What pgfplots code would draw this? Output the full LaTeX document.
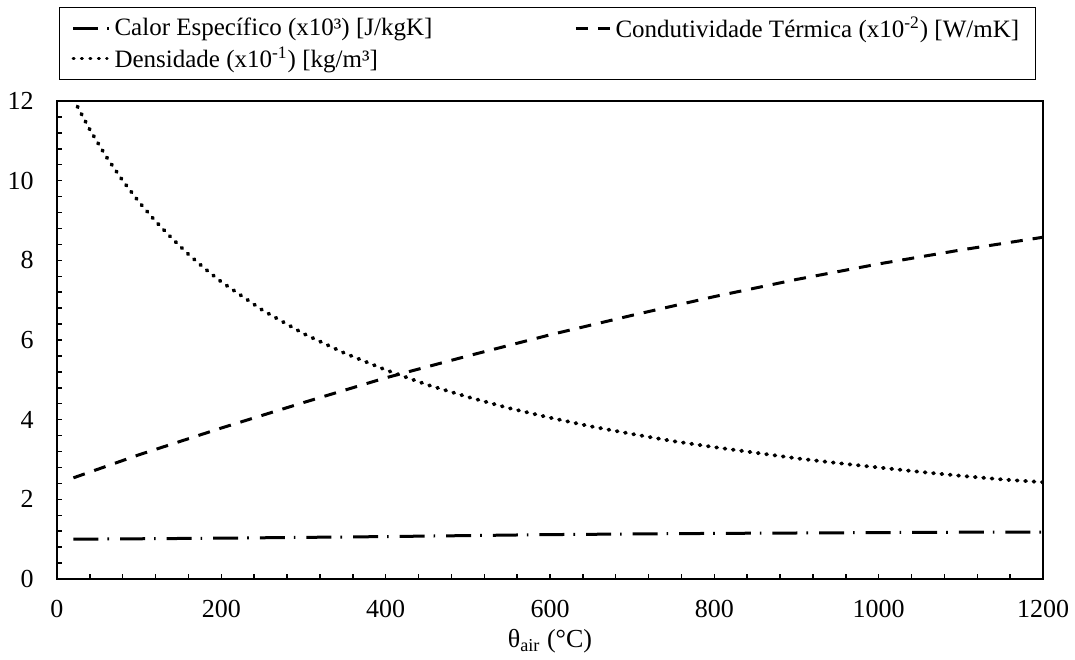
\documentclass[border=0pt]{standalone}
\usepackage{fontspec}
\setmainfont{Liberation Serif}
\usepackage{pgfplots}
\pgfplotsset{compat=1.18}
% slightly longer legend line so the dash-dot pattern shows its dot
\pgfplotsset{longlegend/.style={legend image code/.code={\draw[##1] (0pt,0pt) -- (18pt,0pt);}}}

\begin{document}
\begin{tikzpicture}
\begin{axis}[
  name=ax,
  scale only axis,
  width=493pt, height=239pt,
  xmin=0, xmax=1200, ymin=0, ymax=12,
  xtick={0,200,...,1200}, ytick={0,2,...,12},
  minor x tick num=4, minor y tick num=4,
  xtick pos=left, ytick pos=left,
  tick align=inside,
  major tick length=2.6pt, minor tick length=2.6pt,
  every tick/.style={black, line width=0.75pt},
  axis line style={line width=0.75pt},
  font=\fontsize{13pt}{15pt}\selectfont,
  /pgf/number format/assume math mode=true,
  /pgf/number format/1000 sep={},
  xticklabel style={inner sep=0pt, yshift=-10.5pt},
  yticklabel style={inner sep=0pt, xshift=-11.5pt},
  xlabel={θ\textsubscript{air} (°C)},
  xlabel style={at={(axis description cs:0.5,0)}, anchor=center, yshift=-31pt},
  legend columns=2,
  legend cell align=left,
  legend style={
    at={(axis description cs:0.002,1.044)}, anchor=south west,
    draw=black, line width=0.6pt,
    font=\fontsize{12.5pt}{14.5pt}\selectfont,
    inner xsep=6pt, inner ysep=2.5pt,
    /tikz/every even column/.append style={column sep=69pt},
    row sep=-0.5pt,
  },
  legend image post style={line width=1.5pt},
]
% Calor especifico (x10^3 J/kgK)
\addplot[black, line width=1.5pt, dash pattern=on 12.5pt off 4.5pt on 0.8pt off 5.5pt, longlegend]
  coordinates {(20,1.00) (100,1.01) (200,1.025) (300,1.045) (400,1.065)
               (500,1.09) (600,1.115) (700,1.13) (800,1.145) (900,1.155)
               (1000,1.165) (1100,1.175) (1200,1.18)};
\addlegendentry{Calor Específico (x10³) [J/kgK]}
% Condutividade termica (x10^-2 W/mK)
\addplot[black, line width=1.5pt, dash pattern=on 6pt off 5pt]
  coordinates {(20,2.54) (100,3.12) (200,3.79) (300,4.43) (400,5.05)
               (500,5.60) (600,6.13) (700,6.62) (800,7.09) (900,7.52)
               (1000,7.91) (1100,8.26) (1200,8.58)};
\addlegendentry{Condutividade Térmica (x10\textsuperscript{-2}) [W/mK]}
% Densidade (x10^-1 kg/m^3)
\addplot[black, line width=1.9pt, line cap=round, dash pattern=on 0.5pt off 3.7pt]
  coordinates {(20,12.05) (40,11.28) (60,10.60) (80,10.00) (100,9.46)
               (120,8.98) (140,8.55) (160,8.15) (180,7.79) (200,7.46)
               (250,6.75) (300,6.16) (350,5.67) (400,5.25) (450,4.88)
               (500,4.57) (550,4.29) (600,4.05) (650,3.83) (700,3.64)
               (750,3.46) (800,3.31) (850,3.17) (900,3.03) (950,2.91)
               (1000,2.80) (1050,2.69) (1100,2.59) (1150,2.50) (1200,2.43)};
\addlegendentry{Densidade (x10\textsuperscript{-1}) [kg/m³]}
\end{axis}
\pgfresetboundingbox
\path (ax.south west) ++(-28.5pt,-40pt) rectangle ([xshift=16pt,yshift=50.5pt]ax.north east);
\end{tikzpicture}
\end{document}
